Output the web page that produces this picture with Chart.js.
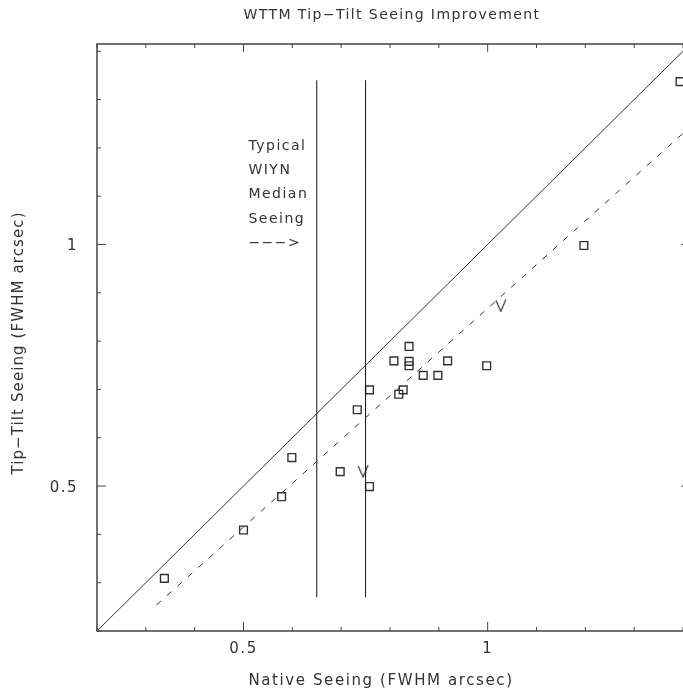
<!DOCTYPE html>
<html>
<head>
<meta charset="utf-8">
<title>WTTM Tip-Tilt Seeing Improvement</title>
<script src="https://cdn.jsdelivr.net/npm/chart.js@4.4.1/dist/chart.umd.min.js"></script>
<style>
  html, body { margin: 0; padding: 0; background: #fff; overflow: hidden; }
</style>
</head>
<body>
<canvas id="seeingChart" width="683" height="696"></canvas>
<script>
// measured seeing, arcsec FWHM
const nativeSeeing  = [0.338, 0.50, 0.578, 0.599, 0.698, 0.758, 0.733, 0.758, 0.818, 0.827, 0.808, 0.839, 0.839, 0.839, 0.868, 0.898, 0.918, 0.998, 1.197, 1.394];
const tipTiltSeeing = [0.309, 0.409, 0.478, 0.559, 0.530, 0.499, 0.658, 0.699, 0.690, 0.699, 0.759, 0.789, 0.758, 0.749, 0.729, 0.729, 0.759, 0.749, 0.998, 1.337];

// the two "V" points
const limitNative  = [0.745, 1.027];
const limitTipTilt = [0.531, 0.874];

// reference lines
const equalityLine = [0.2, 1.4];
const fitNative    = [0.322, 1.4];
const fitTipTilt   = [0.254, 1.23];
const medianSeeing = [0.65, 0.75];
const medianSpan   = [0.27, 1.34];

// axis ticks
const axisTicks = [0.2, 0.3, 0.4, 0.5, 0.6, 0.7, 0.8, 0.9, 1, 1.1, 1.2, 1.3, 1.4];
const tickLabels = [0.5, 1];
const noteLines = ['Typical', 'WIYN', 'Median', 'Seeing', '\u2212\u2212\u2212>'];

const ink = '#333';

// "V" marker as an image point style
const vMark = document.createElement('canvas');
vMark.width = 12;
vMark.height = 14;
(() => {
    const c = vMark.getContext('2d');
    c.strokeStyle = ink;
    c.lineWidth = 1.2;
    c.beginPath();
    c.moveTo(1, 2);
    c.lineTo(6, 13);
    c.lineTo(11, 1);
    c.stroke();
})();

function drawText(ctx, str, x, y, size, align, spacing) {
    ctx.font = size + 'px "DejaVu Sans"';
    ctx.letterSpacing = spacing + 'px';
    ctx.textAlign = align;
    ctx.textBaseline = 'alphabetic';
    ctx.fillStyle = ink;
    ctx.fillText(str, x, y);
}

const framePlugin = {
    id: 'frame',
    afterDraw(chart) {
        const { ctx, chartArea: a, scales: { x, y } } = chart;
        ctx.save();
        ctx.strokeStyle = '#444';
        ctx.lineWidth = 1.5;
        ctx.beginPath();
        ctx.moveTo(a.right, a.top);
        ctx.lineTo(a.left, a.top);
        ctx.lineTo(a.left, a.bottom);
        ctx.lineTo(a.right, a.bottom);
        ctx.stroke();

        ctx.lineWidth = 1;
        ctx.beginPath();
        axisTicks.forEach(v => {
            const major = tickLabels.includes(v);
            const px = x.getPixelForValue(v);
            const py = y.getPixelForValue(v);
            ctx.moveTo(px, a.bottom);
            ctx.lineTo(px, a.bottom - (major ? 9 : 4));
            ctx.moveTo(px, a.top);
            ctx.lineTo(px, a.top + (major ? 8 : 4));
            ctx.moveTo(a.left, py);
            ctx.lineTo(a.left + (major ? 9 : 4), py);
            if (major) {
                ctx.moveTo(a.right, py);
                ctx.lineTo(a.right - 2, py);
            }
        });
        ctx.stroke();

        // tick labels
        tickLabels.forEach(v => {
            drawText(ctx, String(v), x.getPixelForValue(v), a.bottom + 22, 15, 'center', 1.5);
            drawText(ctx, String(v), 78, y.getPixelForValue(v) + 6, 15, 'right', 1.5);
        });

        // note next to the median lines
        const noteX = x.getPixelForValue(0.51);
        const noteY = y.getPixelForValue(1.196);
        noteLines.forEach((s, i) => {
            drawText(ctx, s, noteX, noteY + i * 24.3, 14, 'left', 1.5);
        });

        // titles
        drawText(ctx, 'WTTM Tip\u2212Tilt Seeing Improvement', 392, 19, 14, 'center', 1.4);
        drawText(ctx, 'Native Seeing (FWHM arcsec)', 381, 685, 15, 'center', 1.6);
        ctx.save();
        ctx.translate(23, 343);
        ctx.rotate(-Math.PI / 2);
        drawText(ctx, 'Tip\u2212Tilt Seeing (FWHM arcsec)', 0, 0, 15, 'center', 1.1);
        ctx.restore();

        ctx.restore();
    }
};

const lineSet = (xs, ys, extra) => Object.assign({
    data: xs.map((v, i) => ({ x: v, y: ys[i] })),
    showLine: true,
    borderColor: ink,
    borderWidth: 1,
    pointRadius: 0,
    fill: false
}, extra);

new Chart(document.getElementById('seeingChart').getContext('2d'), {
    type: 'scatter',
    data: {
        datasets: [
            lineSet(equalityLine, equalityLine, { label: 'Equal' }),
            lineSet(fitNative, fitTipTilt, { label: 'Fit', borderDash: [6, 8] }),
            lineSet([medianSeeing[0], medianSeeing[0]], medianSpan, { label: 'Median low', borderColor: '#111' }),
            lineSet([medianSeeing[1], medianSeeing[1]], medianSpan, { label: 'Median high', borderColor: '#111' }),
            {
                label: 'Seeing',
                data: nativeSeeing.map((v, i) => ({ x: v, y: tipTiltSeeing[i] })),
                pointStyle: 'rect',
                pointRadius: 5.5,
                borderColor: ink,
                borderWidth: 1.4,
                backgroundColor: 'rgba(0,0,0,0)'
            },
            {
                label: 'Limits',
                data: limitNative.map((v, i) => ({ x: v, y: limitTipTilt[i] })),
                pointStyle: vMark,
                pointRadius: 6
            }
        ]
    },
    options: {
        responsive: false,
        animation: false,
        events: [],
        layout: { autoPadding: false, padding: { top: 44, left: 97, right: 0, bottom: 65 } },
        plugins: {
            legend: { display: false },
            tooltip: { enabled: false }
        },
        scales: {
            x: { type: 'linear', min: 0.2, max: 1.4, display: false },
            y: { type: 'linear', min: 0.2, max: 1.415, display: false }
        }
    },
    plugins: [framePlugin]
});
</script>
</body>
</html>
